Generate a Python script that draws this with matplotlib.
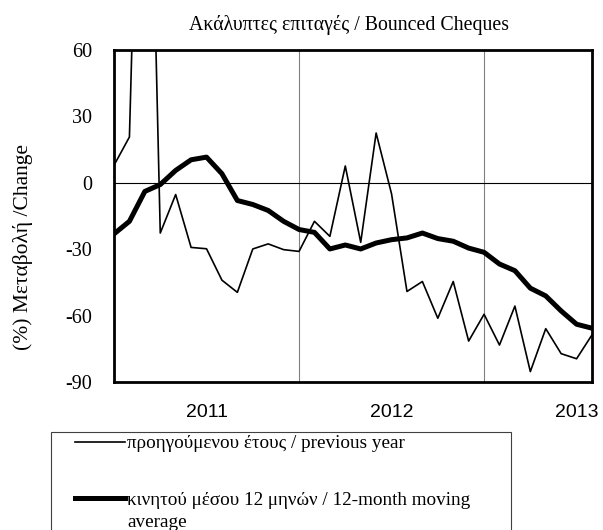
import numpy as np
import matplotlib.pyplot as plt
from matplotlib.patches import Rectangle

# monthly observations, index 0 = first month shown
months = np.arange(32)
prev_year = [7.9, 20.7, 275.0, -22.7, -5.3, -29.2, -29.8, -44.0, -49.5, -29.9,
             -27.6, -30.2, -31.0, -17.4, -24.2, 7.6, -26.9, 22.5, -5.0, -49.1,
             -44.6, -61.2, -44.6, -71.5, -59.4, -73.3, -55.7, -85.3, -65.9, -77.2,
             -79.5, -68.7]
moving_avg = [-23.1, -17.4, -3.9, -0.8, 5.6, 10.4, 11.6, 4.1, -8.0, -9.8,
              -12.5, -17.4, -21.1, -22.4, -29.9, -28.1, -29.9, -27.2, -25.7, -24.9,
              -22.7, -25.2, -26.4, -29.5, -31.4, -36.7, -39.7, -47.6, -51.1, -57.9,
              -63.9, -65.7]
year_labels = ['2011', '2012', '2013']
year_pos = [6, 18, 30]
year_breaks = [12, 24]
yticks = [-90, -60, -30, 0, 30, 60]

serif = ['Liberation Serif', 'DejaVu Serif']
sans = ['Liberation Sans', 'DejaVu Sans']

W, H = 603, 530
fig = plt.figure(figsize=(W / 100, H / 100), dpi=100)
ax = fig.add_axes([114 / W, 1 - 382 / H, (592 - 114) / W, (382 - 50) / H])

for xb in year_breaks:
    ax.axvline(xb, color='#808080', lw=0.8, zorder=1)
ax.axhline(0, color='black', lw=0.8, zorder=1)

l1, = ax.plot(months, prev_year, color='black', lw=1.2, zorder=3,
              label='προηγούμενου έτους / previous year')
l2, = ax.plot(months, moving_avg, color='black', lw=3.6, zorder=4,
              label='κινητού μέσου 12 μηνών / 12-month moving')

ax.set_xlim(0, 31)
ax.set_ylim(-90, 60)
ax.set_yticks(yticks)
ax.set_yticklabels([str(v) for v in yticks], family=serif, fontsize=14.5)
ax.set_xticks(year_pos)
ax.set_xticklabels(year_labels, family=sans, fontsize=14)
ax.tick_params(axis='y', length=0, pad=16)
ax.tick_params(axis='x', length=0, pad=16)
for s in ax.spines.values():
    s.set_linewidth(2)
    s.set_color('black')

fig.text(349 / W, 1 - 25 / H, 'Ακάλυπτες επιταγές / Bounced Cheques',
         family=serif, fontsize=14.3, ha='center', va='center')
fig.text(23 / W, 1 - 247 / H, '(%) Μεταβολή /Change', family=serif,
         fontsize=15.5, rotation=90, ha='center', va='center')

# legend frame (runs past the bottom of the image)
fig.patches.append(Rectangle((51 / W, 1 - 545 / H), (511 - 51) / W, (545 - 432) / H,
                             transform=fig.transFigure, fill=False,
                             edgecolor='#404040', lw=0.8))
leg = fig.legend(handles=[l1, l2], loc='upper left',
                 bbox_to_anchor=(75 / W, 1 - 435 / H), frameon=False,
                 borderpad=0, borderaxespad=0, handlelength=2.6,
                 handletextpad=0.12, labelspacing=2.05,
                 prop={'family': serif, 'size': 13.8})

# wrapped second line of the moving-average label
fig.canvas.draw()
bb = leg.get_texts()[1].get_window_extent()
fig.text(bb.x0 / W, ((bb.y0 + bb.y1) / 2 - 22) / H, 'average',
         family=serif, fontsize=13.8, ha='left', va='center')

fig.savefig('out.png', dpi=100)
